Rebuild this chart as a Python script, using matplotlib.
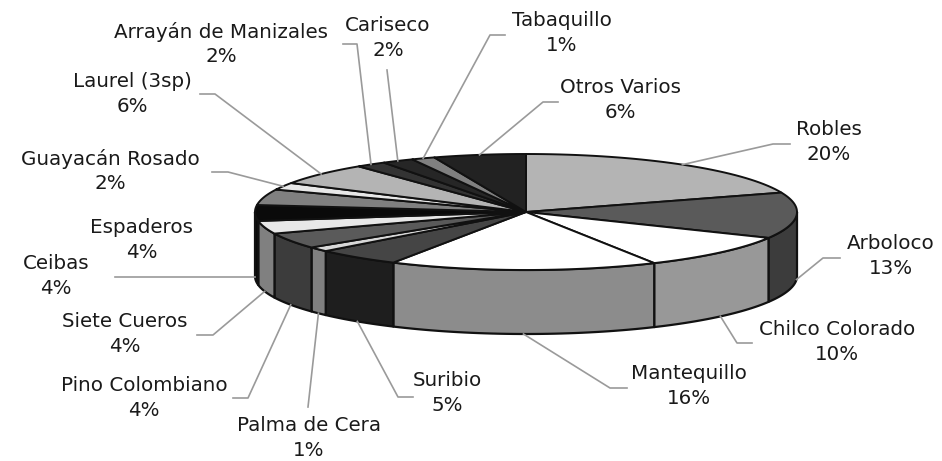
import numpy as np
import matplotlib
matplotlib.use('Agg')
import matplotlib.pyplot as plt
from matplotlib.patches import Polygon

# species clockwise from 12 o'clock, printed percent and slice size
species = ['Robles', 'Arboloco', 'Chilco Colorado', 'Mantequillo', 'Suribio',
           'Palma de Cera', 'Pino Colombiano', 'Siete Cueros', 'Ceibas',
           'Espaderos', 'Guayacán Rosado', 'Laurel (3sp)',
           'Arrayán de Manizales', 'Cariseco', 'Tabaquillo', 'Otros Varios']
percent = [20, 13, 10, 16, 5, 1, 4, 4, 4, 4, 2, 6, 2, 2, 1, 6]
shares = [19.6, 12.8, 9.8, 16.0, 5.1, 1.3, 4.4, 3.6, 4.4, 4.4, 2.0, 6.1, 1.8, 1.9, 1.4, 5.5]

top_colors = ['#b4b4b4', '#5a5a5a', '#ffffff', '#ffffff', '#454545', '#d8d8d8',
              '#5a5a5a', '#e8e8e8', '#0a0a0a', '#808080', '#e8e8e8', '#b4b4b4',
              '#333333', '#262626', '#808080', '#222222']
wall_colors = ['#808080', '#3c3c3c', '#989898', '#8c8c8c', '#1e1e1e', '#808080',
               '#3c3c3c', '#808080', '#0a0a0a', '#555555', '#888888', '#777777',
               '#222222', '#1a1a1a', '#555555', '#111111']

# label centres and leader line elbows, in pixels of the 942x461 picture
label_xy = [(829, 142), (891, 256), (837, 342), (689, 386), (447, 393),
            (309, 438), (144, 398), (125, 334), (56, 276), (142, 240),
            (110, 171), (132, 94), (221, 44), (388, 38), (562, 33), (620, 100)]
leaders = [[(773, 144), (790, 144)], [(823, 258), (840, 258)], [(737, 343), (752, 343)],
           [(610, 388), (627, 388)], [(398, 397), (413, 397)], [(308, 407)],
           [(248, 398), (233, 398)], [(213, 335), (197, 335)], [(115, 277)], None,
           [(228, 172), (212, 172)], [(215, 94), (200, 94)], [(357, 44), (343, 44)],
           [(387, 70)], [(490, 35), (505, 35)], [(543, 102), (558, 102)]]

cx, cy, rx, ry, depth = 526, 212, 271, 58, 64


def rim(theta):
    # theta in degrees, clockwise from the top of the pie
    t = np.radians(theta)
    return cx + rx * np.sin(t), cy - ry * np.cos(t)


fig = plt.figure(figsize=(9.42, 4.61), dpi=100)
ax = fig.add_axes([0, 0, 1, 1])
ax.set_xlim(0, 942)
ax.set_ylim(461, 0)
ax.axis('off')

edges = np.cumsum([0] + shares) * 360 / np.sum(shares)

# side wall, only the front half shows
for i in range(len(shares)):
    a, b = max(edges[i], 90), min(edges[i + 1], 270)
    if a >= b:
        continue
    th = np.linspace(a, b, 40)
    x, y = rim(th)
    pts = np.r_[np.c_[x, y], np.c_[x, y + depth][::-1]]
    ax.add_patch(Polygon(pts, fc=wall_colors[i], ec='#111111', lw=1.6, joinstyle='round'))

# top face
for i in range(len(shares)):
    th = np.linspace(edges[i], edges[i + 1], 40)
    x, y = rim(th)
    pts = np.r_[[(cx, cy)], np.c_[x, y]]
    ax.add_patch(Polygon(pts, fc=top_colors[i], ec='#111111', lw=1.4, joinstyle='round'))

# leader lines start on the rim at the middle of each slice
for i, name in enumerate(species):
    if leaders[i] is not None:
        mid = (edges[i] + edges[i + 1]) / 2
        x0, y0 = rim(mid)
        if 90 < mid < 275:
            y0 += depth
        xs = [x0] + [p[0] for p in leaders[i]]
        ys = [y0] + [p[1] for p in leaders[i]]
        ax.plot(xs, ys, color='#9a9a9a', lw=1.2, zorder=1)
    ax.text(label_xy[i][0], label_xy[i][1], f'{name}\n{percent[i]}%', ha='center', va='center',
            family='DejaVu Sans', fontsize=14.3, color='#1a1a1a', linespacing=1.35)

fig.savefig('out.png', dpi=100)
